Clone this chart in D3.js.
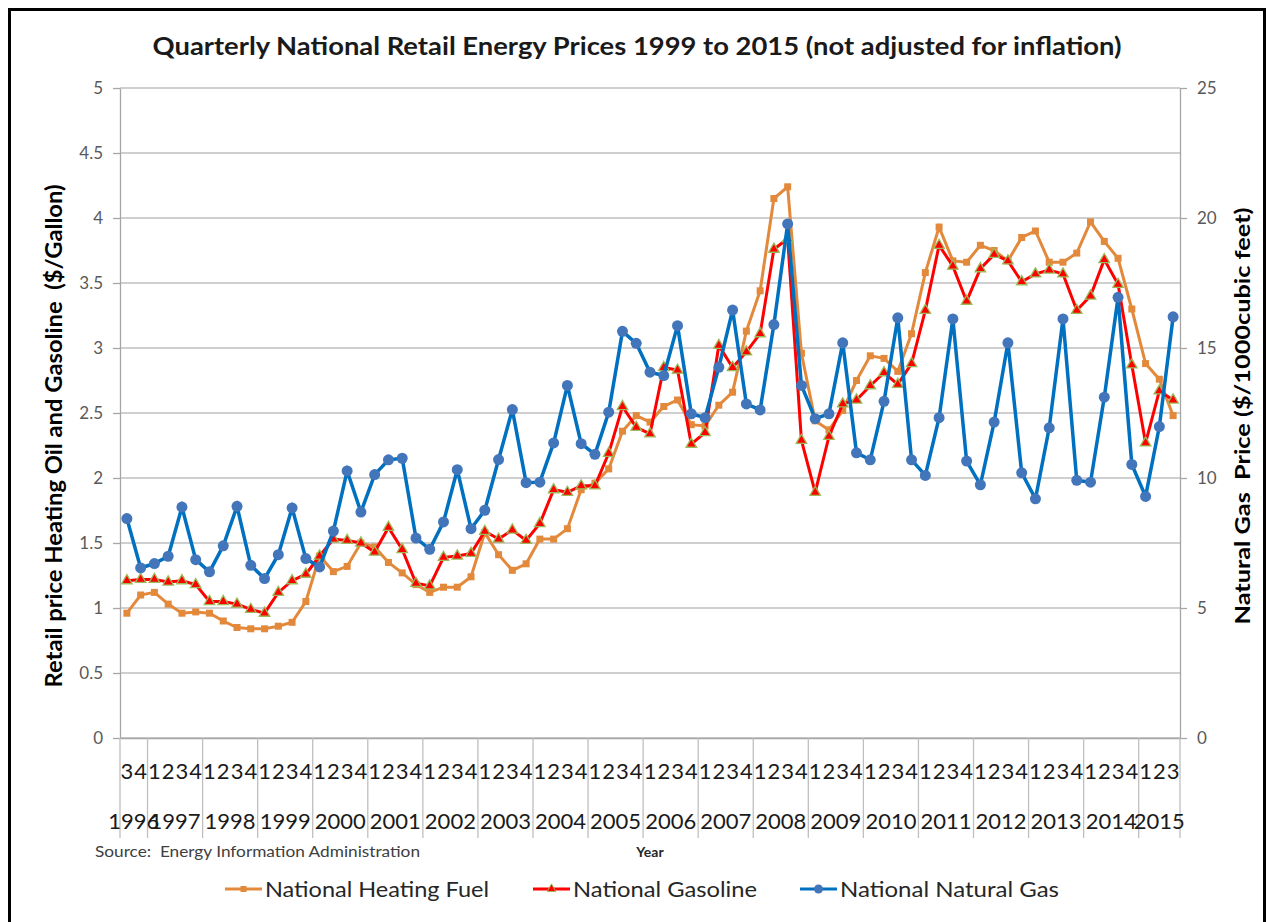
<!DOCTYPE html>
<html lang="en">
<head>
<meta charset="UTF-8">
<title>Quarterly National Retail Energy Prices</title>
<script src="https://d3js.org/d3.v7.min.js"></script>
<style>
  body { margin: 0; background: #fff; }
  text { font-family: Lato, "Open Sans", sans-serif; }
</style>
</head>
<body>
<svg width="1268" height="922"></svg>
<script>
// quarterly data, 1996 Q3 .. 2015 Q3
const years = ['1996', '1997', '1998', '1999', '2000', '2001', '2002', '2003', '2004', '2005',
               '2006', '2007', '2008', '2009', '2010', '2011', '2012', '2013', '2014', '2015'];
const quarters = [3, 4,
  1, 2, 3, 4,  1, 2, 3, 4,  1, 2, 3, 4,  1, 2, 3, 4,  1, 2, 3, 4,  1, 2, 3, 4,
  1, 2, 3, 4,  1, 2, 3, 4,  1, 2, 3, 4,  1, 2, 3, 4,  1, 2, 3, 4,  1, 2, 3, 4,
  1, 2, 3, 4,  1, 2, 3, 4,  1, 2, 3, 4,  1, 2, 3, 4,  1, 2, 3, 4,  1, 2, 3, 4,
  1, 2, 3];

const heatingFuel = [0.96, 1.10, 1.12, 1.03, 0.96, 0.97, 0.96, 0.90, 0.85, 0.84, 0.84, 0.86, 0.89, 1.05,
  1.40, 1.28, 1.32, 1.50, 1.47, 1.35, 1.27, 1.18, 1.12, 1.16, 1.16, 1.24, 1.58, 1.41, 1.29, 1.34,
  1.53, 1.53, 1.61, 1.91, 1.96, 2.07, 2.36, 2.48, 2.43, 2.55, 2.60, 2.41, 2.40, 2.56, 2.66, 3.13,
  3.44, 4.15, 4.24, 2.96, 2.44, 2.37, 2.52, 2.75, 2.94, 2.92, 2.82, 3.11, 3.58, 3.93, 3.67, 3.66,
  3.79, 3.75, 3.67, 3.85, 3.90, 3.66, 3.66, 3.73, 3.97, 3.82, 3.69, 3.30, 2.88, 2.76, 2.48];

const gasoline = [1.21, 1.22, 1.22, 1.20, 1.21, 1.18, 1.05, 1.05, 1.03, 0.99, 0.96, 1.12, 1.21, 1.26,
  1.40, 1.53, 1.52, 1.50, 1.43, 1.62, 1.45, 1.19, 1.17, 1.39, 1.40, 1.42, 1.59, 1.53, 1.60, 1.52,
  1.65, 1.91, 1.89, 1.94, 1.94, 2.19, 2.55, 2.39, 2.34, 2.85, 2.83, 2.26, 2.35, 3.02, 2.85, 2.97,
  3.11, 3.76, 3.84, 2.29, 1.89, 2.32, 2.57, 2.60, 2.71, 2.81, 2.72, 2.88, 3.29, 3.79, 3.63, 3.36,
  3.61, 3.72, 3.67, 3.51, 3.57, 3.60, 3.57, 3.29, 3.40, 3.68, 3.49, 2.87, 2.27, 2.67, 2.60];

// $/1000 cubic feet, right axis
const naturalGas = [8.44, 6.54, 6.71, 6.99, 8.88, 6.86, 6.39, 7.39, 8.91, 6.64, 6.13, 7.05, 8.85, 6.90,
  6.58, 7.96, 10.27, 8.69, 10.13, 10.70, 10.76, 7.69, 7.26, 8.31, 10.32, 8.05, 8.76, 10.71, 12.63, 9.82,
  9.84, 11.35, 13.56, 11.32, 10.91, 12.53, 15.64, 15.18, 14.07, 13.94, 15.86, 12.47, 12.32, 14.26, 16.46, 12.85,
  12.62, 15.90, 19.77, 13.56, 12.28, 12.47, 15.20, 10.97, 10.70, 12.95, 16.16, 10.70, 10.10, 12.32, 16.12, 10.65,
  9.74, 12.15, 15.20, 10.20, 9.20, 11.93, 16.12, 9.91, 9.84, 13.11, 16.95, 10.52, 9.29, 11.98, 16.20];

const leftTicks = [0, 0.5, 1, 1.5, 2, 2.5, 3, 3.5, 4, 4.5, 5];
const rightTicks = [0, 5, 10, 15, 20, 25];

const seriesNames = ['National Heating Fuel', 'National Gasoline', 'National Natural Gas'];

const svg = d3.select('svg');
const L = 120, R = 1180, T = 88, B = 738;

let x = d3.scaleBand().domain(d3.range(quarters.length)).range([L, R]);
let cx = i => x(i) + x.bandwidth() / 2;
let yL = d3.scaleLinear().domain([0, 5]).range([B, T]);
let yR = d3.scaleLinear().domain([0, 25]).range([B, T]);

// outer frame
svg.append('rect').attr('x', 9.5).attr('y', 9.5).attr('width', 1255).attr('height', 960)
  .attr('fill', 'none').attr('stroke', '#000').attr('stroke-width', 3);

// title
svg.append('text').attr('x', 637).attr('y', 55).attr('text-anchor', 'middle')
  .attr('font-size', 25).attr('font-weight', 'bold').attr('fill', '#1a1a1a')
  .attr('textLength', 969).attr('lengthAdjust', 'spacingAndGlyphs')
  .text('Quarterly National Retail Energy Prices 1999 to 2015 (not adjusted for inflation)');

// gridlines
svg.append('g').selectAll('line').data(leftTicks).join('line')
  .attr('x1', L).attr('x2', R)
  .attr('y1', d => yL(d)).attr('y2', d => yL(d))
  .attr('stroke', '#BFBFBF').attr('stroke-width', 1.3);

// left axis
let gL = svg.append('g').attr('transform', `translate(${L},0)`)
  .call(d3.axisLeft(yL).tickValues(leftTicks).tickSize(7).tickSizeOuter(0).tickPadding(10).tickFormat(d => String(d)));
// right axis
let gR = svg.append('g').attr('transform', `translate(${R},0)`)
  .call(d3.axisRight(yR).tickValues(rightTicks).tickSize(7).tickSizeOuter(0).tickPadding(10).tickFormat(d => String(d)));
[gL, gR].forEach(g => {
  g.select('.domain').attr('stroke', '#A6A6A6').attr('stroke-width', 1.3);
  g.selectAll('.tick line').attr('stroke', '#A6A6A6').attr('stroke-width', 1.3);
  g.selectAll('.tick text').attr('fill', '#595959').attr('font-size', 17).attr('font-family', 'Lato, sans-serif');
});

// x axis: quarter row
let gX = svg.append('g').attr('transform', `translate(0,${B})`)
  .call(d3.axisBottom(x).tickFormat(i => quarters[i]).tickSize(0).tickPadding(25));
gX.select('.domain').attr('stroke', '#A6A6A6').attr('stroke-width', 1.3);
gX.selectAll('.tick text').attr('fill', '#1a1a1a').attr('font-size', 22).attr('font-family', 'Lato, sans-serif');

// year groups
let groups = [];
quarters.forEach((q, i) => {
  if (i === 0 || q === 1) groups.push({ year: years[groups.length], start: i, end: i });
  else groups[groups.length - 1].end = i;
});
let sepX = groups.map(g => x(g.start)).concat([R]);
svg.append('g').selectAll('line').data(sepX).join('line')
  .attr('x1', d => d).attr('x2', d => d).attr('y1', B).attr('y2', 838)
  .attr('stroke', '#BFBFBF').attr('stroke-width', 1.3);
svg.append('g').selectAll('text').data(groups).join('text')
  .attr('x', g => (x(g.start) + x(g.end) + x.bandwidth()) / 2)
  .attr('y', 829).attr('text-anchor', 'middle')
  .attr('font-size', 22).attr('fill', '#1a1a1a')
  .text(g => g.year);

// axis titles
svg.append('text').attr('transform', 'translate(62,436) rotate(-90)')
  .attr('text-anchor', 'middle').attr('font-size', 22).attr('font-weight', 'bold').attr('fill', '#000')
  .attr('textLength', 503).attr('lengthAdjust', 'spacingAndGlyphs').style('white-space', 'pre')
  .text('Retail price Heating Oil and Gasoline  ($/Gallon)');
svg.append('text').attr('transform', 'translate(1250,416) rotate(-90)')
  .attr('text-anchor', 'middle').attr('font-size', 21).attr('font-weight', 'bold').attr('fill', '#000')
  .attr('textLength', 417).attr('lengthAdjust', 'spacingAndGlyphs').style('white-space', 'pre')
  .text('Natural Gas  Price ($/1000cubic feet)');

svg.append('text').attr('x', 95).attr('y', 857).attr('font-size', 15).attr('fill', '#404040')
  .attr('textLength', 325).attr('lengthAdjust', 'spacingAndGlyphs').style('white-space', 'pre')
  .text('Source:  Energy Information Administration');
svg.append('text').attr('x', 650).attr('y', 857).attr('text-anchor', 'middle')
  .attr('font-size', 14).attr('font-weight', 'bold').attr('fill', '#262626').text('Year');

// series
const orange = '#E3893B', red = '#FF0000', blue = '#0070C0';
let lineL = d3.line().x((d, i) => cx(i)).y(d => yL(d));
let lineR = d3.line().x((d, i) => cx(i)).y(d => yR(d));
let tri = d3.symbol(d3.symbolTriangle, 48);

let g1 = svg.append('g');
g1.append('path').attr('d', lineL(heatingFuel)).attr('fill', 'none').attr('stroke', orange).attr('stroke-width', 3);
g1.selectAll('rect').data(heatingFuel).join('rect')
  .attr('x', (d, i) => cx(i) - 3.5).attr('y', d => yL(d) - 3.5)
  .attr('width', 7).attr('height', 7).attr('fill', orange);

let g2 = svg.append('g');
g2.append('path').attr('d', lineL(gasoline)).attr('fill', 'none').attr('stroke', red).attr('stroke-width', 3);
g2.selectAll('path.m').data(gasoline).join('path').attr('class', 'm')
  .attr('d', tri).attr('transform', (d, i) => `translate(${cx(i)},${yL(d)})`)
  .attr('fill', red).attr('stroke', '#9BBB59').attr('stroke-width', 1.3);

let g3 = svg.append('g');
g3.append('path').attr('d', lineR(naturalGas)).attr('fill', 'none').attr('stroke', blue).attr('stroke-width', 3.5);
g3.selectAll('circle').data(naturalGas).join('circle')
  .attr('cx', (d, i) => cx(i)).attr('cy', d => yR(d)).attr('r', 5.5).attr('fill', '#4275BA');

// legend
const legendX = [225, 533, 800];
const legendW = [224, 184, 219];
let lg = svg.append('g').selectAll('g').data(seriesNames).join('g')
  .attr('transform', (d, i) => `translate(${legendX[i]},889)`);
lg.append('line').attr('x1', 0).attr('x2', 37)
  .attr('stroke', (d, i) => [orange, red, blue][i]).attr('stroke-width', 3);
lg.filter((d, i) => i === 0).append('rect').attr('x', 15.5).attr('y', -3).attr('width', 6).attr('height', 6).attr('fill', orange);
lg.filter((d, i) => i === 1).append('path').attr('d', d3.symbol(d3.symbolTriangle, 34))
  .attr('transform', 'translate(18.5,0)').attr('fill', red).attr('stroke', '#9BBB59').attr('stroke-width', 1);
lg.filter((d, i) => i === 2).append('circle').attr('cx', 18.5).attr('r', 4.5).attr('fill', '#4275BA');
lg.append('text').attr('x', 40).attr('y', 8).attr('font-size', 21).attr('fill', '#262626')
  .attr('textLength', (d, i) => legendW[i]).attr('lengthAdjust', 'spacingAndGlyphs')
  .text(d => d);
</script>
</body>
</html>
